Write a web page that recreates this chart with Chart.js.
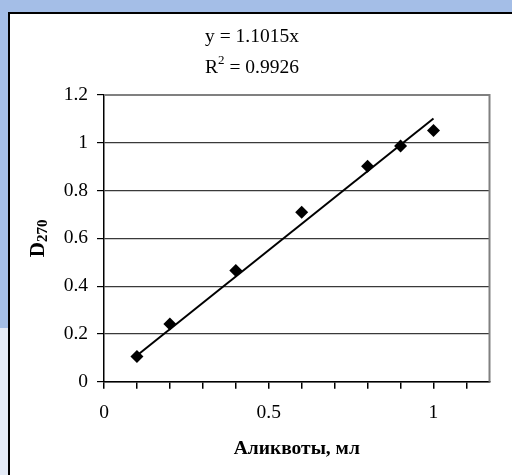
<!DOCTYPE html>
<html>
<head>
<meta charset="utf-8">
<script src="https://cdn.jsdelivr.net/npm/chart.js@4.4.0/dist/chart.umd.min.js"></script>
<style>
    html, body { margin: 0; padding: 0; }
    body { width: 512px; height: 475px; background: #a4bee7; position: relative; overflow: hidden; }
    #pale { position: absolute; left: 0; top: 328px; width: 10px; height: 147px; background: #e4ebf7; }
    #box { position: absolute; left: 8px; top: 12px; width: 520px; height: 480px; background: #fff; border: 2px solid #000; }
    #wrap { position: absolute; left: 0; top: 0; width: 512px; height: 475px; }
</style>
</head>
<body>
<div id="pale"></div>
<div id="box"></div>
<div id="wrap"><canvas id="chart" width="512" height="475"></canvas></div>
<script>
// data
const aliquots = [0.1, 0.2, 0.4, 0.6, 0.8, 0.9, 1.0];
const absorb = [0.105, 0.241, 0.465, 0.709, 0.902, 0.987, 1.051];
// linear trend line (through origin)
const trendX = [0.1, 1.0];
const trendY = [0.110, 1.1015];
const eqText = 'y = 1.1015x';
const r2Text = '0.9926';
// axis ticks
const xTicks = [0, 0.1, 0.2, 0.3, 0.4, 0.5, 0.6, 0.7, 0.8, 0.9, 1.0, 1.1];
const xLabels = [0, 0.5, 1];
const yTicks = [0, 0.2, 0.4, 0.6, 0.8, 1, 1.2];

const serif = "'Liberation Serif', 'Times New Roman', serif";

// Plugin: plot border, trend equation and y axis title
const extras = {
    id: 'extras',
    afterDraw(chart) {
        const ctx = chart.ctx;
        const a = chart.chartArea;
        ctx.save();
        // gray plot border on top and right
        ctx.strokeStyle = '#808080';
        ctx.lineWidth = 2;
        ctx.beginPath();
        ctx.moveTo(a.left, a.top);
        ctx.lineTo(a.right, a.top);
        ctx.lineTo(a.right, a.bottom);
        ctx.stroke();

        // equation text
        ctx.fillStyle = '#000';
        ctx.font = '19.5px ' + serif;
        ctx.textBaseline = 'middle';
        ctx.textAlign = 'center';
        ctx.fillText(eqText, 252, 37);
        const rest = ' = ' + r2Text;
        const wR = ctx.measureText('R').width;
        ctx.font = '13px ' + serif;
        const w2 = ctx.measureText('2').width;
        ctx.font = '19.5px ' + serif;
        const wRest = ctx.measureText(rest).width;
        let x0 = 252 - (wR + w2 + wRest) / 2;
        ctx.textAlign = 'left';
        ctx.fillText('R', x0, 68);
        ctx.font = '13px ' + serif;
        ctx.fillText('2', x0 + wR, 61);
        ctx.font = '19.5px ' + serif;
        ctx.fillText(rest, x0 + wR + w2, 68);

        // y axis title D270 (rotated)
        ctx.translate(37, (a.top + a.bottom) / 2);
        ctx.rotate(-Math.PI / 2);
        ctx.font = 'bold 21px ' + serif;
        const wD = ctx.measureText('D').width;
        ctx.font = 'bold 15px ' + serif;
        const wS = ctx.measureText('270').width;
        const start = -(wD + wS) / 2;
        ctx.textBaseline = 'alphabetic';
        ctx.font = 'bold 21px ' + serif;
        ctx.fillText('D', start, 7);
        ctx.font = 'bold 15px ' + serif;
        ctx.fillText('270', start + wD, 10);
        ctx.restore();
    }
};

const ctx = document.getElementById('chart').getContext('2d');
const chart = new Chart(ctx, {
    type: 'scatter',
    data: {
        datasets: [{
            label: 'D270',
            data: aliquots.map((x, i) => ({ x: x, y: absorb[i] })),
            pointStyle: 'rectRot',
            pointRadius: 6.5,
            backgroundColor: '#000',
            borderColor: '#000',
            borderWidth: 0
        }, {
            type: 'line',
            label: 'trend',
            data: trendX.map((x, i) => ({ x: x, y: trendY[i] })),
            borderColor: '#000',
            borderWidth: 2,
            pointRadius: 0,
            fill: false
        }]
    },
    options: {
        responsive: false,
        animation: false,
        layout: { padding: { top: 95, right: 22.5, left: 0, bottom: 0 } },
        plugins: {
            legend: { display: false },
            tooltip: { enabled: false }
        },
        scales: {
            x: {
                type: 'linear',
                min: 0,
                max: 1.17,
                afterBuildTicks: s => { s.ticks = xTicks.map(v => ({ value: v })); },
                afterFit: s => { s.height = 475 - 381.7; },
                ticks: {
                    autoSkip: false,
                    maxRotation: 0,
                    padding: 12,
                    color: '#000',
                    font: { family: serif, size: 19.5 },
                    callback: v => xLabels.some(l => Math.abs(l - v) < 1e-6) ? String(v) : ''
                },
                grid: { drawOnChartArea: false, drawTicks: true, tickLength: 7, color: '#000', lineWidth: 1.5 },
                border: { display: true, color: '#000', width: 1.5 },
                title: {
                    display: true,
                    text: 'Аликвоты, мл',
                    color: '#000',
                    font: { family: serif, size: 19.5, weight: 'bold' },
                    padding: { top: 0, bottom: 14 }
                }
            },
            y: {
                min: 0,
                max: 1.2,
                afterBuildTicks: s => { s.ticks = yTicks.map(v => ({ value: v })); },
                afterFit: s => { s.width = 104; },
                ticks: {
                    padding: 9,
                    color: '#000',
                    font: { family: serif, size: 19.5 },
                    callback: v => String(v)
                },
                grid: { color: '#3a3a3a', lineWidth: 1.2, drawTicks: true, tickLength: 7, tickColor: '#000' },
                border: { display: true, color: '#000', width: 1.5 }
            }
        }
    },
    plugins: [extras]
});
</script>
</body>
</html>
